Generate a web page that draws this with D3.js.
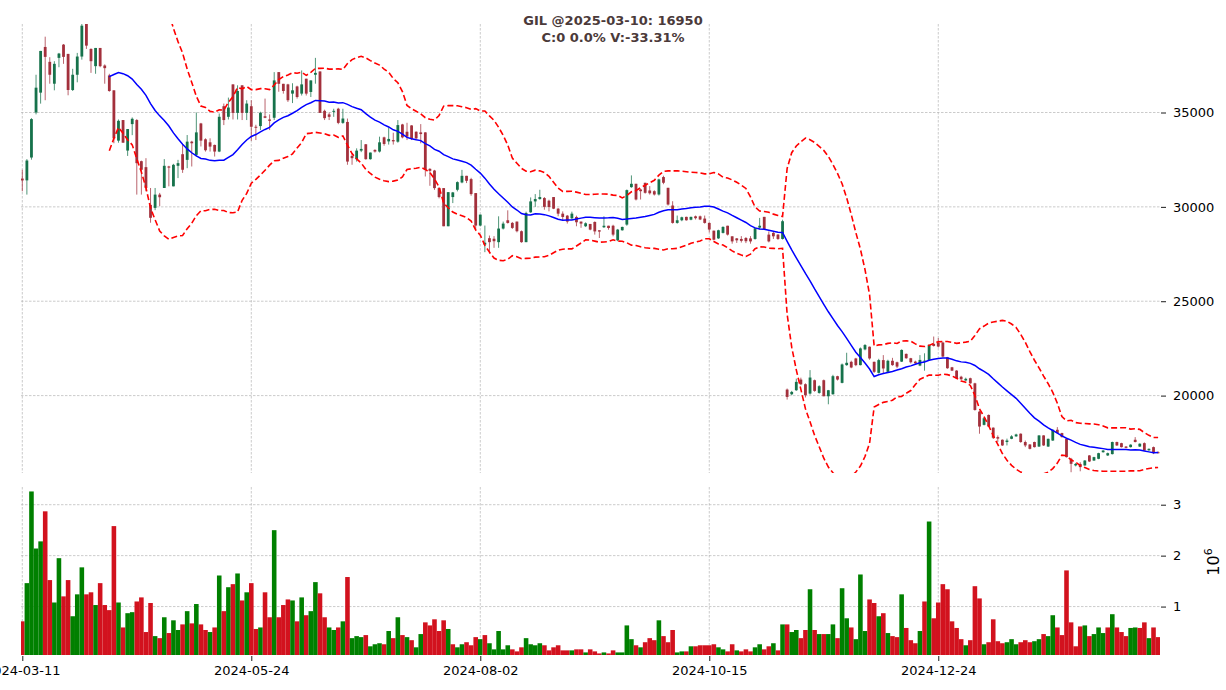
<!DOCTYPE html>
<html><head><meta charset="utf-8">
<script src="https://cdn.jsdelivr.net/npm/d3@7"></script>
<style>body{margin:0;background:#fff;} svg{display:block;font-family:"DejaVu Sans",sans-serif;}</style>
</head><body><svg id="c" width="1226" height="690"></svg>
<script>
const title1 = "GIL @2025-03-10: 16950";
const title2 = "C:0 0.0% V:-33.31%";
const tickIdx = [0, 50, 100, 150, 200];
const tickLabels = ["2024-03-11", "2024-05-24", "2024-08-02", "2024-10-15", "2024-12-24"];
const priceTicks = [20000, 25000, 30000, 35000];
const volTicks = [1, 2, 3];
const opens = [31500,31404,32614,35000,36052,38473,37684,36525,37894,38596,
38105,36192,37000,37965,39800,38368,37455,38420,37490,36964,
36175,33509,34600,32983,34385,34600,32421,32105,30105,29947,
30650,31000,32140,31088,32176,32790,32490,33456,32755,34420,
33580,33421,33281,32930,35333,34772,36490,34980,36440,34980,
35333,34245,34280,34800,34630,34720,37140,36520,36490,36000,
36380,36000,36790,36088,37000,37175,35088,34900,35035,35200,
34450,34500,32700,32527,32980,33316,32527,33018,32930,33684,
33470,33540,33453,34367,33980,34315,33980,33946,33946,32013,
31925,30994,30994,28973,30520,30906,31293,31645,31470,30730,
29010,28000,28340,28310,28130,28850,29290,29150,29220,28710,
28130,29711,30290,30414,30467,30326,30520,29904,29640,29535,
29395,29465,29220,28973,29095,29200,28760,28920,29000,29000,
28227,28760,29060,31045,31223,30920,31276,30868,30830,30656,
31580,31010,30070,29150,29290,29470,29320,29500,29500,29380,
29150,28740,28330,28620,29000,28440,28330,28300,28350,28330,
28300,28900,29470,28530,28620,28530,28300,20320,20070,20284,
20850,20603,20107,20815,20142,20815,19965,20070,21028,20674,
21614,21790,21968,21614,22447,22590,21790,21205,21880,21260,
21845,21767,21800,22210,21980,21800,21590,21800,21890,22740,
22800,22810,22030,21500,21325,21000,20800,20920,20650,19150,
18450,18975,18300,17800,17660,17540,17710,17840,17980,17540,
17410,17540,17300,17890,17300,17620,18190,18015,17710,16650,
16300,16380,16300,16830,16560,16650,17000,16830,16900,17540,
17480,17300,17270,17660,17300,17480,17100,17270,17000];
const highs = [31966,32530,34700,37000,38262,39017,37930,37718,38157,38630,
38105,37315,38157,40200,40200,38400,38420,38420,37550,37050,
36175,34630,34600,34123,34737,34650,32450,32580,31000,31000,
30740,32530,32176,32280,32490,33333,33807,33500,35000,34450,
33632,33632,33300,34947,35473,35789,36490,36440,36440,35650,
35650,34350,35040,35736,34900,37140,37140,36520,36520,36550,
36420,37228,36790,36700,37894,37175,35150,35000,35200,35250,
35200,34680,32840,33100,33540,33330,32880,33050,33720,33720,
34210,33930,34600,34400,34455,34330,34000,34385,33960,32050,
31960,31050,30994,30780,30790,31350,31960,31645,31540,30730,
29590,29010,28480,28450,29500,29220,29816,29200,29220,28750,
29746,30500,30677,30906,30520,30380,30520,29940,29760,29570,
29746,29535,29220,29180,29095,29230,28760,29500,29000,29050,
28830,28950,30920,31667,31223,30950,31276,31100,30880,31490,
31650,31010,30300,29540,29480,29480,29480,29540,29540,29540,
29180,28740,28790,28970,29000,28440,28350,28450,28400,28450,
28900,29415,29470,28700,28700,28560,29320,20375,20250,20900,
20950,20650,21350,20850,20550,20850,20300,21100,21050,21700,
22270,21850,22000,22550,22730,22600,21800,21950,22145,21900,
22000,21800,22447,22230,22000,21850,22146,22240,22700,23130,
23050,22860,22050,21520,21350,21050,20950,20950,20680,19200,
18850,19000,18320,17890,17680,17720,17900,17980,18000,17620,
17430,17560,17900,17900,17720,18200,18330,18030,17720,16700,
16430,16470,16580,16850,16760,16970,17110,16980,17560,17560,
17500,17330,17420,17800,17470,17520,17200,17300,17050];
const lows = [30825,30650,32500,34900,35470,35650,36525,36175,37400,37578,
35912,36140,36600,37800,38368,37100,37052,37400,36525,36100,
33370,33400,33400,32700,33800,30650,30650,30825,29160,29825,
30035,31000,31088,31088,31525,31800,32050,32140,32670,33200,
32930,32930,32667,32900,34333,34630,34630,34630,34600,34600,
33500,33540,34070,34700,34070,34600,36100,36000,35560,35500,
35736,35900,35900,35820,36526,34980,34600,34600,34770,34380,
34400,32230,32230,32400,32900,32500,32500,32877,32880,33240,
33300,33300,33400,33630,33540,33540,33540,33366,31610,31117,
30900,30450,28973,28973,30200,30820,31250,31260,30590,28800,
28973,27600,27530,27830,27830,28800,29114,28830,28650,28100,
28130,29680,30000,30380,29850,29763,29880,29500,29290,29115,
29320,28973,28890,28930,28760,28530,28350,28880,28790,28440,
28180,28740,29000,31010,30340,30390,30700,30650,30600,30600,
31200,30070,29110,29110,29240,29270,29290,29330,29300,29110,
28650,28230,28300,28590,28480,28050,28090,28110,28080,28050,
28260,28800,28790,28120,28300,28250,28270,19790,20020,20250,
20550,19900,20050,20200,20100,19965,19540,20050,20800,20650,
21580,21450,21560,21600,22400,21900,21200,21170,21170,21230,
21580,21450,21780,21950,21700,21650,21560,21320,21850,22600,
22550,22030,21420,21300,20880,20830,20780,20620,19200,17980,
18420,18340,17700,17540,17330,17360,17690,17820,17500,17270,
17150,17250,17280,17330,17280,17600,17990,17780,16720,15940,
16250,15990,16280,16480,16540,16630,16980,16800,16880,17330,
17250,17210,17250,17520,17280,17070,17080,16900,16930];
const closes = [31400,32456,34650,36315,38262,37947,37000,37578,38122,37947,
36192,37000,37965,39600,38543,37718,38420,37455,37350,36140,
33632,34560,33400,34123,34667,32316,31966,31000,29420,30650,
30510,32176,32080,32228,32316,31966,33456,33370,33947,33509,
33000,33193,32930,34772,34600,35263,34980,36140,34980,35473,
34245,34200,34980,34720,34560,36700,36520,36140,35650,36175,
35820,36490,36000,36700,37100,34980,34700,34770,35088,34450,
34680,32400,32580,32980,33070,32527,32877,32930,33420,33333,
33600,33470,34333,33682,33720,33595,33630,33857,31960,31908,
30994,30520,28973,30780,30765,31310,31645,31380,30677,29010,
29590,28100,28130,28180,28850,29114,29150,28885,28710,28130,
29676,30290,30414,30520,30000,29992,29904,29640,29465,29220,
29640,29185,29114,29130,28795,28700,28690,29000,28880,28530,
28795,28937,30886,31223,30390,30830,30745,30720,30656,31454,
31277,30124,29150,29290,29450,29290,29470,29400,29330,29150,
28800,28260,28760,28937,28530,28170,28227,28200,28180,28170,
28865,29000,28830,28170,28440,28300,29240,19930,20195,20727,
20600,20018,20957,20250,20497,19965,20284,21028,20850,21650,
21738,21490,21614,22500,22678,21968,21260,21880,21437,21845,
21614,21537,22420,21980,21767,21714,21890,21850,22686,22630,
22600,22067,21450,21325,20920,20865,20890,20650,19240,18360,
18800,18360,17766,17720,17360,17620,17840,17940,17540,17360,
17180,17270,17890,17360,17710,18190,18015,17800,16740,16385,
16380,16210,16560,16510,16740,16950,17090,16950,17540,17360,
17270,17230,17400,17540,17450,17090,17180,16950,16950];
const volumesM = [0.71,1.46,3.26,2.14,2.28,2.87,1.52,1.08,1.95,1.20,
1.52,0.81,1.24,1.77,1.24,1.28,1.03,1.46,1.03,0.93,
2.58,1.08,0.59,0.87,0.89,1.10,1.18,0.50,1.07,0.42,
0.38,0.79,0.48,0.73,0.54,0.65,0.91,0.67,1.05,0.65,
0.54,0.50,0.59,1.61,0.91,1.38,1.44,1.65,1.12,1.28,
1.46,0.56,0.59,1.28,0.79,2.50,0.79,1.03,1.14,1.12,
0.71,1.18,0.83,0.91,1.48,1.26,0.79,0.59,0.54,0.59,
0.71,1.58,0.38,0.42,0.40,0.44,0.22,0.26,0.28,0.26,
0.52,0.38,0.79,0.44,0.40,0.34,0.20,0.46,0.69,0.63,
0.75,0.52,0.73,0.56,0.26,0.20,0.26,0.30,0.24,0.40,
0.36,0.44,0.28,0.16,0.52,0.16,0.24,0.16,0.12,0.20,
0.38,0.26,0.24,0.28,0.24,0.14,0.20,0.24,0.14,0.14,
0.14,0.16,0.16,0.10,0.16,0.12,0.08,0.10,0.08,0.14,
0.10,0.10,0.63,0.36,0.24,0.20,0.30,0.38,0.34,0.73,
0.42,0.30,0.54,0.10,0.12,0.12,0.22,0.22,0.24,0.24,
0.24,0.26,0.20,0.16,0.12,0.26,0.14,0.12,0.16,0.12,
0.20,0.26,0.16,0.22,0.28,0.14,0.65,0.65,0.50,0.54,
0.38,0.54,1.34,0.54,0.46,0.46,0.46,0.65,0.38,1.36,
0.77,0.59,0.36,1.63,0.52,1.14,1.07,0.81,0.87,0.48,
0.42,0.40,1.24,0.58,0.34,0.28,0.52,1.10,2.67,0.77,
1.08,1.44,1.34,0.71,0.58,0.36,0.24,0.34,1.40,1.16,
0.26,0.30,0.75,0.32,0.28,0.30,0.36,0.26,0.30,0.34,
0.30,0.32,0.36,0.46,0.42,0.83,0.59,0.44,1.71,0.69,
0.22,0.61,0.63,0.42,0.46,0.59,0.48,0.59,0.85,0.59,
0.50,0.42,0.58,0.59,0.58,0.69,0.38,0.59,0.40];
const maWindow = 20, bbK = 2;

// ---- derived indicator (20-period SMA, Bollinger bands) ----
const n = closes.length;
const ma = [], up = [], lo = [];
for (let i = maWindow - 1; i < n; i++) {
  const w = closes.slice(i - maWindow + 1, i + 1);
  const m = d3.mean(w);
  const sd = Math.sqrt(d3.mean(w, v => (v - m) * (v - m)));
  ma.push([i, m]); up.push([i, m + bbK * sd]); lo.push([i, m - bbK * sd]);
}

const svg = d3.select("#c");
const X0 = 21, X1 = 1160;
const P0 = 24, P1 = 473, V0 = 487, V1 = 655;
const x = d3.scaleLinear().domain([0, 248]).range([22.3, 1158.1]);
const y = d3.scaleLinear().domain([20000, 35000]).range([395.6, 112.5]);
const yv = d3.scaleLinear().domain([0, 3]).range([657.5, 504.7]);
const step = x(1) - x(0);

const defs = svg.append("defs");
defs.append("clipPath").attr("id", "cp").append("rect").attr("x", X0).attr("y", P0).attr("width", X1 - X0).attr("height", P1 - P0);
defs.append("clipPath").attr("id", "cv").append("rect").attr("x", X0).attr("y", V0).attr("width", X1 - X0).attr("height", V1 - V0);

const gridC = "#b4b4b4";
// grid
const grid = svg.append("g").attr("stroke", gridC).attr("stroke-width", 0.7).attr("stroke-dasharray", "2.5,1.5").attr("fill", "none");
tickIdx.forEach(t => {
  grid.append("line").attr("x1", x(t)).attr("x2", x(t)).attr("y1", P0).attr("y2", P1);
  grid.append("line").attr("x1", x(t)).attr("x2", x(t)).attr("y1", V0).attr("y2", V1);
});
priceTicks.forEach(t => grid.append("line").attr("x1", X0).attr("x2", X1).attr("y1", y(t)).attr("y2", y(t)));
volTicks.forEach(t => grid.append("line").attr("x1", X0).attr("x2", X1).attr("y1", yv(t)).attr("y2", yv(t)));

// volume
const upV = "#008000", dnV = "#d2121e";
const vcol = i => (i === 0 ? (opens[0] < closes[0]) : (closes[i] > closes[i - 1])) ? upV : dnV;
svg.append("g").attr("clip-path", "url(#cv)").selectAll("rect").data(volumesM).join("rect")
  .attr("x", (d, i) => x(i) - step / 2).attr("width", step)
  .attr("y", d => yv(d)).attr("height", d => Math.max(0, V1 - yv(d)))
  .attr("fill", (d, i) => vcol(i));

// candles
const upC = "#16724b", dnC = "#a3303c";
const cg = svg.append("g").attr("clip-path", "url(#cp)");
const idx = d3.range(n);
cg.selectAll("line.w").data(idx).join("line").attr("class", "w")
  .attr("x1", i => x(i)).attr("x2", i => x(i))
  .attr("y1", i => y(highs[i])).attr("y2", i => y(lows[i]))
  .attr("stroke", i => opens[i] < closes[i] ? upC : dnC).attr("stroke-width", 1).attr("stroke-opacity", 0.75);
cg.selectAll("rect.b").data(idx).join("rect").attr("class", "b")
  .attr("x", i => x(i) - 1.4).attr("width", 2.8)
  .attr("y", i => y(Math.max(opens[i], closes[i])))
  .attr("height", i => Math.max(1, Math.abs(y(opens[i]) - y(closes[i]))))
  .attr("fill", i => opens[i] < closes[i] ? upC : dnC);

// MA and bands
const line = d3.line().x(d => x(d[0])).y(d => y(d[1]));
cg.append("path").attr("d", line(up)).attr("fill", "none").attr("stroke", "#ff0000").attr("stroke-width", 1.6).attr("stroke-dasharray", "6,3");
cg.append("path").attr("d", line(lo)).attr("fill", "none").attr("stroke", "#ff0000").attr("stroke-width", 1.6).attr("stroke-dasharray", "6,3");
cg.append("path").attr("d", line(ma)).attr("fill", "none").attr("stroke", "#0000ff").attr("stroke-width", 1.5);

// axes
function styleAxis(g) {
  g.select(".domain").remove();
  g.selectAll("text").attr("font-size", 13).attr("fill", "#000").attr("font-family", "DejaVu Sans, sans-serif");
  g.selectAll(".tick line").attr("stroke", "#000").attr("stroke-width", 0.9);
}
svg.append("g").attr("transform", `translate(${X1 + 1},0)`)
  .call(d3.axisRight(y).tickValues(priceTicks).tickSize(5).tickPadding(7).tickFormat(d3.format("d"))).call(styleAxis);
svg.append("g").attr("transform", `translate(${X1 + 1},0)`)
  .call(d3.axisRight(yv).tickValues(volTicks).tickSize(5).tickPadding(7).tickFormat(d3.format("d"))).call(styleAxis);
svg.append("g").attr("transform", `translate(0,${V1 + 1})`)
  .call(d3.axisBottom(x).tickValues(tickIdx).tickSize(5).tickPadding(5).tickFormat((d, i) => tickLabels[i])).call(styleAxis);

// 10^6 label
const ex = svg.append("text").attr("transform", "translate(1219,562) rotate(-90)")
  .attr("text-anchor", "middle").attr("font-size", 16).attr("fill", "#000");
ex.append("tspan").text("10");
ex.append("tspan").attr("dy", -7).attr("font-size", 11).text("6");

// title
svg.append("text").attr("x", 613).attr("y", 25).attr("text-anchor", "middle").attr("font-weight", "bold")
  .attr("font-size", 13).attr("fill", "#4b3a3a").text(title1);
svg.append("text").attr("x", 613).attr("y", 42).attr("text-anchor", "middle").attr("font-weight", "bold")
  .attr("font-size", 13).attr("fill", "#4b3a3a").text(title2);
</script></body></html>
